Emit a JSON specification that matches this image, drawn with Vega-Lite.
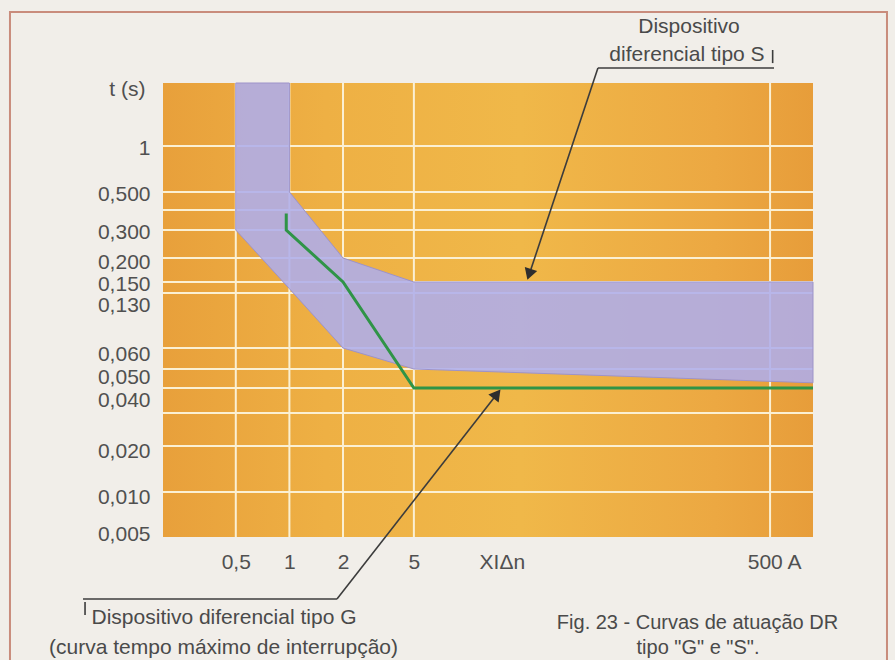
{
  "$schema": "https://vega.github.io/schema/vega-lite/v6.json",
  "width": 650,
  "height": 454,
  "autosize": {"type": "none"},
  "padding": {"left": 163, "top": 83, "right": 82, "bottom": 123},
  "background": "#f1eee9",
  "config": {"font": "Liberation Sans", "view": {"stroke": null}},
  "datasets": {
    "frame": [{"x0": 0.02698, "x1": 2267, "t0": 0.0006, "t1": 7.02}],
    "plot": [{"x0": 0.1951, "x1": 871, "t0": 0.005, "t1": 2.5}],
    "gridY": [{"t": 1}, {"t": 0.5}, {"t": 0.4}, {"t": 0.3}, {"t": 0.2}, {"t": 0.15}, {"t": 0.13}, {"t": 0.06}, {"t": 0.05}, {"t": 0.04}, {"t": 0.03}, {"t": 0.02}, {"t": 0.01}],
    "gridX": [{"x": 0.5}, {"x": 1}, {"x": 2}, {"x": 5}, {"x": 500}],
    "bandS": [
      {"x": 0.5, "lo": 0.3, "hi": 2.5},
      {"x": 1, "lo": 0.1375, "hi": 2.5},
      {"x": 1, "lo": 0.1375, "hi": 0.5},
      {"x": 2, "lo": 0.06, "hi": 0.2},
      {"x": 5, "lo": 0.05, "hi": 0.15},
      {"x": 871, "lo": 0.0425, "hi": 0.15}
    ],
    "curveG": [
      {"i": 1, "x": 0.96, "t": 0.38},
      {"i": 2, "x": 0.96, "t": 0.3},
      {"i": 3, "x": 2, "t": 0.15},
      {"i": 4, "x": 5, "t": 0.04},
      {"i": 5, "x": 871, "t": 0.04}
    ],
    "leaders": [
      {"xa": 54.0, "ta": 3.11, "xb": 526, "tb": 3.11},
      {"xa": 54.0, "ta": 3.11, "xb": 22.2, "tb": 0.164},
      {"xa": 517, "ta": 4.04, "xb": 517, "tb": 3.34},
      {"xa": 0.06937, "ta": 0.001924, "xb": 1.85, "tb": 0.001924},
      {"xa": 1.85, "ta": 0.001924, "xb": 14.64, "tb": 0.03733},
      {"xa": 0.0712, "ta": 0.001837, "xb": 0.0712, "tb": 0.001504}
    ],
    "headS": [{"x": 22.2, "t": 0.1643}],
    "headG": [{"x": 14.64, "t": 0.03733}],
    "notes": [
      {"x": 175.3, "t": 5.65, "text": "Dispositivo", "size": "a"},
      {"x": 170.8, "t": 3.76, "text": "diferencial tipo S", "size": "a"},
      {"x": 0.4293, "t": 0.001436, "text": "Dispositivo diferencial tipo G", "size": "a"},
      {"x": 0.4266, "t": 0.000905, "text": "(curva tempo máximo de interrupção)", "size": "a"},
      {"x": 195.6, "t": 0.00133, "text": "Fig. 23 - Curvas de atuação DR", "size": "b"},
      {"x": 196.9, "t": 0.000905, "text": "tipo \"G\" e \"S\".", "size": "b"}
    ]
  },
  "layer": [
    {
      "data": {"name": "frame"},
      "mark": {"type": "rect", "fillOpacity": 0, "stroke": "#c98c7c", "strokeWidth": 2},
      "encoding": {
        "x": {"field": "x0", "type": "quantitative", "scale": {"type": "log", "domain": [0.1951, 871], "nice": false}, "axis": {
          "values": [0.5, 1, 2, 5, 15.6, 500],
          "labelExpr": "datum.value == 0.5 ? '0,5' : datum.value == 15.6 ? 'XIΔn' : datum.value == 500 ? '500 A' : datum.label",
          "title": null, "domain": false, "ticks": false, "grid": false,
          "labelFontSize": 21, "labelColor": "#505050", "labelPadding": 14,
          "labelOverlap": false, "labelFlush": false, "labelBound": false,
          "labelOffset": {"condition": {"test": "datum.value == 500", "value": 4}, "value": 0}
        }},
        "x2": {"field": "x1"},
        "y": {"field": "t0", "type": "quantitative", "scale": {
          "type": "log", "nice": false,
          "domain": [0.005, 0.01, 0.02, 0.03, 0.04, 0.05, 0.06, 0.13, 0.15, 0.2, 0.3, 0.4, 0.5, 1, 2.5],
          "range": [454, 409, 363, 330, 305, 286, 265, 210, 199, 175, 147, 127, 109, 63, 0]
        }, "axis": {
          "values": [1, 0.5, 0.3, 0.2, 0.15, 0.13, 0.06, 0.05, 0.04, 0.02, 0.01, 0.005],
          "labelExpr": "datum.value == 1 ? '1' : replace(format(datum.value, '.3f'), '.', ',')",
          "title": "t (s)", "titleAngle": 0, "titleX": -18, "titleY": 6, "titleAlign": "right", "titleBaseline": "middle",
          "titleFontSize": 21, "titleFontWeight": "normal", "titleColor": "#505050",
          "domain": false, "ticks": false, "grid": false,
          "labelFontSize": 21, "labelColor": "#505050", "labelPadding": 13,
          "labelOverlap": false, "labelFlush": false, "labelBound": false,
          "labelOffset": {"condition": [
            {"test": "datum.value == 0.13", "value": 12},
            {"test": "datum.value == 0.04", "value": 12},
            {"test": "datum.value == 0.05", "value": 8},
            {"test": "datum.value == 0.06", "value": 6},
            {"test": "datum.value == 0.02", "value": 5},
            {"test": "datum.value == 0.01", "value": 5},
            {"test": "datum.value == 0.2", "value": 4},
            {"test": "datum.value == 0.005", "value": -3}
          ], "value": 2}
        }},
        "y2": {"field": "t1"}
      }
    },
    {
      "data": {"name": "plot"},
      "mark": {"type": "rect", "fill": {"gradient": "linear", "x1": 0, "y1": 0, "x2": 1, "y2": 0, "stops": [
        {"offset": 0, "color": "#e8a03b"},
        {"offset": 0.25, "color": "#eeb044"},
        {"offset": 0.55, "color": "#f0b849"},
        {"offset": 0.85, "color": "#eca842"},
        {"offset": 1, "color": "#e79d3a"}
      ]}},
      "encoding": {
        "x": {"field": "x0", "type": "quantitative"},
        "x2": {"field": "x1"},
        "y": {"field": "t0", "type": "quantitative"},
        "y2": {"field": "t1"}
      }
    },
    {
      "data": {"name": "gridY"},
      "mark": {"type": "rule", "stroke": "#fbf0d3", "strokeWidth": 2},
      "encoding": {"y": {"field": "t", "type": "quantitative"}}
    },
    {
      "data": {"name": "gridX"},
      "mark": {"type": "rule", "stroke": "#fbf0d3", "strokeWidth": 2},
      "encoding": {"x": {"field": "x", "type": "quantitative"}}
    },
    {
      "data": {"name": "bandS"},
      "mark": {"type": "area", "fill": "#aeadec", "fillOpacity": 0.88, "stroke": "#9d93c9", "strokeWidth": 1},
      "encoding": {
        "x": {"field": "x", "type": "quantitative"},
        "y": {"field": "lo", "type": "quantitative"},
        "y2": {"field": "hi"}
      }
    },
    {
      "data": {"name": "curveG"},
      "mark": {"type": "line", "stroke": "#2f9447", "strokeWidth": 3},
      "encoding": {
        "x": {"field": "x", "type": "quantitative"},
        "y": {"field": "t", "type": "quantitative"},
        "order": {"field": "i"}
      }
    },
    {
      "data": {"name": "leaders"},
      "mark": {"type": "rule", "stroke": "#3c3c3c", "strokeWidth": 1.6},
      "encoding": {
        "x": {"field": "xa", "type": "quantitative"},
        "y": {"field": "ta", "type": "quantitative"},
        "x2": {"field": "xb"},
        "y2": {"field": "tb"}
      }
    },
    {
      "data": {"name": "headS"},
      "mark": {"type": "point", "shape": "triangle-down", "angle": 18.5, "filled": true, "size": 170, "color": "#2e2e2e", "opacity": 1},
      "encoding": {
        "x": {"field": "x", "type": "quantitative"},
        "y": {"field": "t", "type": "quantitative"}
      }
    },
    {
      "data": {"name": "headG"},
      "mark": {"type": "point", "shape": "triangle-up", "angle": 38, "filled": true, "size": 170, "color": "#2e2e2e", "opacity": 1},
      "encoding": {
        "x": {"field": "x", "type": "quantitative"},
        "y": {"field": "t", "type": "quantitative"}
      }
    },
    {
      "data": {"name": "notes"},
      "mark": {"type": "text", "align": "center", "baseline": "middle", "color": "#4a4a4a"},
      "encoding": {
        "x": {"field": "x", "type": "quantitative"},
        "y": {"field": "t", "type": "quantitative"},
        "text": {"field": "text"},
        "size": {"field": "size", "type": "nominal", "scale": {"domain": ["a", "b"], "range": [21, 20]}, "legend": null}
      }
    }
  ]
}
